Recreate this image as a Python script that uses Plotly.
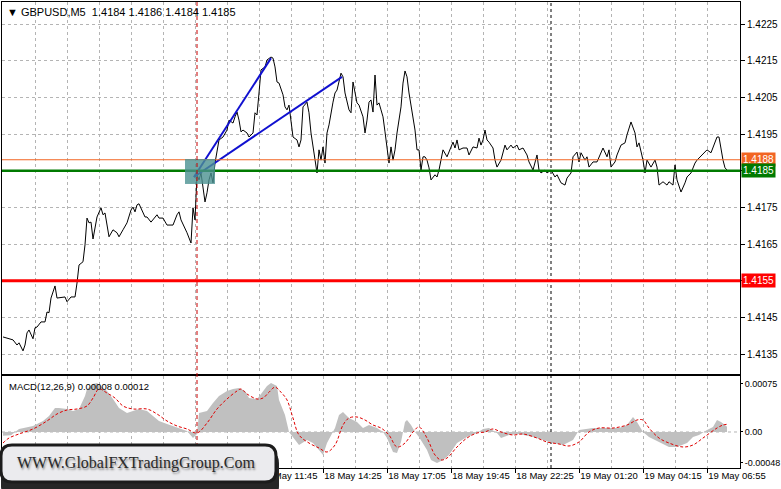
import plotly.graph_objects as go

# ---------------- data (bar index, price) ----------------
price_bar = [0, 5, 7, 8, 10, 11, 12, 13, 15, 16, 17, 19, 21, 22, 23, 24, 26, 27, 31, 32,
             34, 36, 37, 38, 40, 41, 42, 43, 44, 45, 47, 48, 49, 50, 51, 53, 55, 57, 58, 60,
             62, 64, 65, 66, 67, 68, 69, 71, 72, 74, 77, 78, 80, 82, 85, 87, 88, 89, 92, 94,
             95, 96, 97, 98, 99, 100, 101, 102, 103, 104, 105, 106, 107, 108, 110, 112, 113, 115, 116, 117,
             118, 119, 120, 122, 123, 125, 126, 127, 128, 129, 131, 132, 134, 135, 136, 137, 138, 140, 141, 142,
             143, 144, 145, 147, 148, 149, 150, 152, 153, 154, 155, 156, 157, 158, 159, 160, 161, 162, 163, 165,
             166, 167, 168, 169, 170, 171, 173, 174, 175, 176, 177, 178, 180, 181, 182, 183, 184, 185, 186, 187,
             188, 189, 190, 191, 192, 193, 194, 195, 196, 197, 199, 200, 201, 202, 203, 204, 206, 207, 208, 209,
             210, 211, 212, 213, 214, 216, 217, 218, 220, 222, 223, 225, 226, 227, 228, 230, 232, 233, 235, 237,
             238, 239, 240, 241, 242, 243, 245, 246, 247, 249, 251, 252, 254, 255, 257, 258, 260, 262, 263, 265,
             267, 268, 269, 271, 272, 274, 276, 277, 279, 281, 282, 284, 285, 287, 288, 289, 291, 292, 293, 295,
             297, 300, 302, 303, 304, 306, 307, 309, 311, 312, 314, 316, 317, 318, 320, 321, 322, 324, 326, 327,
             328, 330, 332, 333, 335, 336, 337, 339, 341, 342, 344, 346, 347, 349, 351, 352, 354, 355, 357, 358,
             359, 360, 361, 362]
price_val = [1.41397, 1.41389, 1.41375, 1.41381, 1.41359, 1.41375, 1.41408, 1.41416, 1.41392, 1.41422,
             1.41424, 1.41438, 1.41438, 1.41465, 1.41463, 1.41503, 1.41536, 1.41503, 1.41506, 1.41493,
             1.41506, 1.41506, 1.41544, 1.41593, 1.41602, 1.41648, 1.41721, 1.41708, 1.41710, 1.41664,
             1.41724, 1.41738, 1.41749, 1.41730, 1.41735, 1.41670, 1.41689, 1.41681, 1.41670, 1.41689,
             1.41708, 1.41743, 1.41751, 1.41738, 1.41757, 1.41760, 1.41749, 1.41724, 1.41724, 1.41710,
             1.41730, 1.41721, 1.41721, 1.41702, 1.41702, 1.41730, 1.41738, 1.41716, 1.41681, 1.41653,
             1.41749, 1.41716, 1.41839, 1.41825, 1.41844, 1.41806, 1.41765, 1.41790, 1.41825, 1.41844,
             1.41817, 1.41871, 1.41899, 1.41934, 1.41942, 1.41961, 1.41988, 1.41980, 1.41997, 1.42010,
             1.41988, 1.41956, 1.41961, 1.41953, 1.41942, 1.41953, 1.42008, 1.42002, 1.42062, 1.42125,
             1.42133, 1.42152, 1.42160, 1.42157, 1.42133, 1.42092, 1.42089, 1.42057, 1.42024, 1.42016,
             1.42029, 1.41988, 1.41942, 1.41934, 1.41915, 1.41934, 1.42024, 1.42037, 1.42008, 1.41953,
             1.41915, 1.41879, 1.41844, 1.41907, 1.41879, 1.41915, 1.41871, 1.41953, 1.41975, 1.42037,
             1.42062, 1.42070, 1.42097, 1.42116, 1.42106, 1.42062, 1.42016, 1.42008, 1.42092, 1.42062,
             1.42035, 1.42029, 1.41997, 1.41953, 1.41988, 1.42037, 1.42043, 1.42010, 1.42111, 1.42029,
             1.42035, 1.42016, 1.41997, 1.41956, 1.41907, 1.41871, 1.41915, 1.41879, 1.41907, 1.41953,
             1.42024, 1.42089, 1.42122, 1.42106, 1.42062, 1.42024, 1.41961, 1.41907, 1.41907, 1.41852,
             1.41888, 1.41888, 1.41879, 1.41858, 1.41825, 1.41839, 1.41833, 1.41852, 1.41907, 1.41888,
             1.41901, 1.41928, 1.41912, 1.41934, 1.41907, 1.41912, 1.41912, 1.41893, 1.41915, 1.41912,
             1.41939, 1.41920, 1.41934, 1.41961, 1.41934, 1.41928, 1.41912, 1.41879, 1.41860, 1.41879,
             1.41920, 1.41907, 1.41920, 1.41912, 1.41920, 1.41907, 1.41912, 1.41893, 1.41874, 1.41852,
             1.41893, 1.41852, 1.41844, 1.41852, 1.41844, 1.41852, 1.41833, 1.41839, 1.41817, 1.41811,
             1.41830, 1.41844, 1.41888, 1.41901, 1.41874, 1.41899, 1.41879, 1.41888, 1.41860, 1.41874,
             1.41874, 1.41912, 1.41888, 1.41907, 1.41860, 1.41874, 1.41893, 1.41920, 1.41926, 1.41948,
             1.41983, 1.41953, 1.41915, 1.41926, 1.41879, 1.41844, 1.41879, 1.41860, 1.41879, 1.41860,
             1.41811, 1.41820, 1.41811, 1.41820, 1.41811, 1.41866, 1.41825, 1.41792, 1.41817, 1.41833,
             1.41844, 1.41871, 1.41879, 1.41890, 1.41899, 1.41907, 1.41899, 1.41915, 1.41942, 1.41942,
             1.41907, 1.41879, 1.41858, 1.41852]

# MACD main (histogram) and signal
macd_bar = [0, 4, 8, 15, 20, 23, 26, 28, 32, 35, 38, 41, 42, 45, 47, 50, 52, 55, 58, 62,
            65, 68, 72, 75, 78, 82, 85, 88, 92, 95, 97, 98, 102, 105, 108, 112, 115, 118, 121, 123,
            127, 129, 132, 134, 137, 138, 141, 143, 145, 148, 152, 155, 158, 160, 162, 164, 166, 168, 170, 173,
            177, 180, 183, 187, 190, 192, 195, 197, 199, 201, 202, 204, 206, 208, 212, 214, 217, 220, 223, 227,
            232, 237, 240, 243, 247, 249, 253, 258, 265, 270, 275, 280, 285, 288, 295, 302, 308, 312, 315, 317,
            320, 323, 328, 333, 337, 342, 345, 348, 352, 355, 357, 359, 361, 362]
macd_val = [-6.0e-5, -5.0e-5, 4.7e-5, 9.4e-5, 17.2e-5, 25.0e-5, 37.4e-5, 37.4e-5, 35.9e-5, 32.8e-5,
            35.9e-5, 56.2e-5, 67.1e-5, 74.9e-5, 76.4e-5, 68.6e-5, 64.0e-5, 51.5e-5, 37.4e-5, 29.6e-5,
            32.8e-5, 35.9e-5, 32.8e-5, 25.0e-5, 17.2e-5, 12.5e-5, 9.4e-5, 6.2e-5, 1.6e-5, -9.4e-5,
            -3.1e-5, 29.6e-5, 32.8e-5, 45.2e-5, 56.2e-5, 64.0e-5, 67.1e-5, 68.6e-5, 64.0e-5, 53.0e-5,
            51.5e-5, 59.3e-5, 71.8e-5, 76.4e-5, 71.8e-5, 50.0e-5, 26.5e-5, 0.0, -7.8e-5, -20.3e-5,
            -12.5e-5, -17.2e-5, -28.1e-5, -35.9e-5, -17.2e-5, -4.7e-5, 6.2e-5, 26.5e-5, 31.2e-5, 21.8e-5,
            15.6e-5, 6.2e-5, 10.9e-5, 6.2e-5, 0.0, -9.4e-5, -31.2e-5, -32.8e-5, -15.6e-5, 15.6e-5,
            18.7e-5, 10.9e-5, 0.0, -7.8e-5, -28.1e-5, -43.7e-5, -48.4e-5, -43.7e-5, -35.9e-5, -17.2e-5,
            -7.8e-5, -1.6e-5, 4.7e-5, 6.2e-5, -1.6e-5, -9.4e-5, -4.7e-5, -3.1e-5, -7.8e-5, -12.5e-5,
            -17.2e-5, -20.3e-5, -12.5e-5, 3.1e-5, 6.2e-5, 6.2e-5, 6.2e-5, 10.9e-5, 23.4e-5, 15.6e-5,
            0.0, -7.8e-5, -15.6e-5, -23.4e-5, -23.4e-5, -17.2e-5, -7.8e-5, -4.7e-5, 3.1e-5, 7.8e-5,
            18.7e-5, 15.6e-5, 10.9e-5, 8.0e-5]

signal_bar = [0, 3, 8, 15, 22, 27, 32, 37, 42, 45, 48, 52, 56, 60, 65, 72, 77, 82, 87, 92,
              97, 102, 107, 112, 117, 119, 122, 127, 130, 133, 136, 139, 142, 145, 148, 153, 158, 162, 166, 170,
              173, 177, 181, 185, 189, 193, 197, 201, 205, 208, 212, 216, 219, 222, 227, 232, 237, 241, 245, 249,
              255, 260, 267, 272, 278, 283, 288, 293, 298, 305, 312, 317, 320, 323, 328, 333, 340, 345, 350, 357,
              360, 362]
signal_val = [-17.2e-5, -9.4e-5, -3.1e-5, 4.7e-5, 17.2e-5, 28.1e-5, 34.3e-5, 35.9e-5, 40.6e-5, 53.0e-5,
              67.1e-5, 60.8e-5, 53.0e-5, 40.6e-5, 35.9e-5, 35.9e-5, 28.1e-5, 17.2e-5, 9.4e-5, 4.7e-5,
              -1.6e-5, 14.0e-5, 35.9e-5, 51.5e-5, 64.0e-5, 67.1e-5, 59.3e-5, 51.5e-5, 53.0e-5, 62.0e-5,
              70.0e-5, 62.0e-5, 50.0e-5, 21.8e-5, -4.7e-5, -17.2e-5, -25.0e-5, -31.2e-5, -20.3e-5, 10.9e-5,
              21.8e-5, 23.4e-5, 18.7e-5, 10.9e-5, 6.2e-5, -4.7e-5, -23.4e-5, -17.2e-5, 0.0, 7.8e-5,
              -9.4e-5, -35.9e-5, -43.7e-5, -40.6e-5, -23.4e-5, -9.4e-5, -1.6e-5, 0.0, 4.7e-5, 0.0,
              -4.7e-5, -3.1e-5, -9.4e-5, -15.6e-5, -18.7e-5, -21.8e-5, -15.6e-5, 0.0, 6.2e-5, 6.2e-5,
              10.9e-5, 18.7e-5, 18.7e-5, 6.2e-5, -9.4e-5, -17.2e-5, -23.4e-5, -20.3e-5, -9.4e-5, 6.2e-5,
              10.9e-5, 12.0e-5]

# axis ticks (levels 1.4185 / 1.4155 are labelled by their coloured price tags)
price_ticks = [1.4135, 1.4145, 1.4155, 1.4165, 1.4175, 1.4185, 1.4195, 1.4205, 1.4215, 1.4225]
price_tick_text = ["1.4135", "1.4145", "", "1.4165", "1.4175", "", "1.4195", "1.4205", "1.4215", "1.4225"]
macd_ticks = [0.00075, 0.0, -0.00048]
macd_tick_text = ["0.00075", "0.00", "-0.00048"]
time_tick_bars = [128, 160, 192, 224, 256, 288, 320, 352]
time_tick_text = ["18 May 11:45", "18 May 14:25", "18 May 17:05", "18 May 19:45",
                  "18 May 22:25", "19 May 01:20", "19 May 04:15", "19 May 06:55"]

# horizontal levels
level_vals = [1.4188, 1.4185, 1.4155]
level_text = ["1.4188", "1.4185", "1.4155"]
level_colors = ["#f26522", "#007a00", "#ff0000"]
level_widths = [1, 2.5, 3]

# drawn objects (bar, price)
trend1 = [(95.5, 1.41833), (134, 1.42157)]
trend2 = [(95.5, 1.41833), (169.5, 1.42106)]
box_bars = (91, 106)
box_prices = (1.41814, 1.41882)
vline_red_bar = 97
vline_black_bar = 274

title_text = "▼ GBPUSD,M5  1.4184 1.4186 1.4184 1.4185"
macd_title = "MACD(12,26,9) 0.00008 0.00012"
watermark = "WWW.GlobalFXTradingGroup.Com"

# ---------------- layout geometry ----------------
W, H = 781, 489
ML, MR, MT, MB = 2, 41, 2, 21
PW, PH = W - ML - MR, H - MT - MB
XR = [-0.5, 368.5]
BAR_PX = PW / (XR[1] - XR[0])
LABEL_SHIFT = 30 / BAR_PX  # label centre offset so text starts at its tick


def px_x(px):
    return (px - ML) / PW


def px_y(py):
    return (H - MB - py) / PH


FONT = "Liberation Sans, Arial"
GRID = "#b4b4b4"

fig = go.Figure()

fig.add_trace(go.Scatter(x=macd_bar, y=macd_val, mode="lines", fill="tozeroy",
                         fillcolor="#c0c0c0", line=dict(width=0, color="#c0c0c0"),
                         xaxis="x2", yaxis="y2", hoverinfo="skip"))
fig.add_trace(go.Scatter(x=signal_bar, y=signal_val, mode="lines",
                         line=dict(width=1, color="#e00000", dash="3px,2px", shape="spline"),
                         xaxis="x2", yaxis="y2", hoverinfo="skip"))
fig.add_trace(go.Scatter(x=price_bar, y=price_val, mode="lines",
                         line=dict(width=1, color="#000000"), xaxis="x", yaxis="y",
                         hoverinfo="skip"))
for tl in (trend1, trend2):
    fig.add_trace(go.Scatter(x=[p[0] for p in tl], y=[p[1] for p in tl], mode="lines",
                             line=dict(width=2, color="#1010d0"), xaxis="x", yaxis="y",
                             hoverinfo="skip"))
# invisible trace carrying the shifted time-label axis
fig.add_trace(go.Scatter(x=[b + LABEL_SHIFT for b in time_tick_bars], y=[0] * len(time_tick_bars),
                         mode="markers", marker=dict(opacity=0), xaxis="x3", yaxis="y2",
                         hoverinfo="skip"))

shapes = []
for v, c, w in zip(level_vals, level_colors, level_widths):
    shapes.append(dict(type="line", xref="paper", yref="y", x0=0, x1=1, y0=v, y1=v,
                       line=dict(color=c, width=w), layer="above"))
shapes.append(dict(type="rect", xref="x", yref="y", x0=box_bars[0], x1=box_bars[1],
                   y0=box_prices[0], y1=box_prices[1], fillcolor="rgba(75,145,145,0.8)",
                   line=dict(width=0), layer="above"))
shapes.append(dict(type="line", xref="paper", yref="y2", x0=0, x1=1, y0=0, y1=0,
                   line=dict(color=GRID, width=1, dash="3px,3px"), layer="below"))
shapes.append(dict(type="line", xref="x", yref="paper", x0=vline_black_bar, x1=vline_black_bar,
                   y0=0, y1=1, line=dict(color="#000000", width=1, dash="3px,3px"), layer="below"))
shapes.append(dict(type="line", xref="x", yref="paper", x0=vline_red_bar, x1=vline_red_bar,
                   y0=0, y1=1, line=dict(color="#c80000", width=1, dash="4px,3px"), layer="above"))


def rounded(px0, py0, px1, py1, r):
    X, Y = px_x, px_y
    return (f"M {X(px0 + r)},{Y(py0)} L {X(px1 - r)},{Y(py0)} Q {X(px1)},{Y(py0)} {X(px1)},{Y(py0 + r)} "
            f"L {X(px1)},{Y(py1 - r)} Q {X(px1)},{Y(py1)} {X(px1 - r)},{Y(py1)} "
            f"L {X(px0 + r)},{Y(py1)} Q {X(px0)},{Y(py1)} {X(px0)},{Y(py1 - r)} "
            f"L {X(px0)},{Y(py0 + r)} Q {X(px0)},{Y(py0)} {X(px0 + r)},{Y(py0)} Z")


shapes.append(dict(type="path", xref="paper", yref="paper", path=rounded(1, 452, 279, 497, 11),
                   fillcolor="#262626", line=dict(width=0), layer="above"))
shapes.append(dict(type="path", xref="paper", yref="paper", path=rounded(1, 445, 276, 482, 11),
                   fillcolor="#ebebee", line=dict(color="#1c1c1c", width=3), layer="above"))

annotations = []
annotations.append(dict(xref="paper", yref="paper", x=px_x(5), y=px_y(12), xanchor="left",
                        yanchor="middle", text=title_text, showarrow=False,
                        font=dict(family=FONT, size=11, color="#000000")))
annotations.append(dict(xref="paper", yref="paper", x=px_x(7), y=px_y(386), xanchor="left",
                        yanchor="middle", text=macd_title, showarrow=False,
                        font=dict(family=FONT, size=9.5, color="#000000")))
for v, t, c in zip(level_vals, level_text, level_colors):
    annotations.append(dict(xref="paper", yref="y", x=1, y=v, xanchor="left", yanchor="middle",
                            xshift=1, text=t, showarrow=False, bgcolor=c, borderpad=1,
                            font=dict(family=FONT, size=10, color="#ffffff")))
annotations.append(dict(xref="paper", yref="paper", x=px_x(136), y=px_y(463), xanchor="center",
                        yanchor="middle", text=watermark, showarrow=False,
                        font=dict(family="Liberation Serif, Times New Roman, serif", size=16,
                                  color="#2a2a2a", shadow="1px 2px 2px #8a8a8a")))

axis_common = dict(showline=True, linecolor="#000000", linewidth=1, mirror=True, zeroline=False)

fig.update_layout(
    width=W, height=H, margin=dict(l=ML, r=MR, t=MT, b=MB, pad=0, autoexpand=False),
    paper_bgcolor="#ffffff", plot_bgcolor="#ffffff", showlegend=False,
    font=dict(family=FONT, size=10, color="#000000"),
    xaxis=dict(domain=[0, 1], anchor="y", range=XR, tickmode="linear", tick0=0,
               dtick=16, showticklabels=False, ticks="", showgrid=True, gridcolor=GRID,
               griddash="3px,3px", gridwidth=1, **axis_common),
    yaxis=dict(domain=[(H - MB - 374) / PH, 1], anchor="x", side="right",
               range=[1.41296, 1.42310], tickvals=price_ticks, ticktext=price_tick_text,
               ticks="outside", ticklen=4, tickcolor="#000000", showgrid=True, gridcolor=GRID,
               griddash="3px,3px", tickfont=dict(family=FONT, size=10), **axis_common),
    xaxis2=dict(domain=[0, 1], anchor="y2", range=XR, tickvals=time_tick_bars,
                ticks="outside", ticklen=4, tickcolor="#000000", showticklabels=False,
                showgrid=True, gridcolor=GRID, griddash="3px,3px",
                minor=dict(tickmode="linear", tick0=0, dtick=16, showgrid=True, gridcolor=GRID,
                           griddash="3px,3px", ticks=""),
                **axis_common),
    xaxis3=dict(domain=[0, 1], anchor="y2", overlaying="x2", range=XR,
                tickvals=[b + LABEL_SHIFT for b in time_tick_bars], ticktext=time_tick_text,
                tickangle=0, ticks="", showgrid=False, showline=False, zeroline=False,
                tickfont=dict(family=FONT, size=9.5)),
    yaxis2=dict(domain=[0, (H - MB - 376) / PH], anchor="x2", side="right",
                range=[-0.000562, 0.000874], tickvals=macd_ticks, ticktext=macd_tick_text,
                ticks="outside", ticklen=2, tickcolor="#000000", showgrid=False,
                tickfont=dict(family=FONT, size=9), **axis_common),
    shapes=shapes, annotations=annotations,
)

fig.write_html("out.html", config={"displayModeBar": False},
               post_script="document.body.style.margin='0px';")
